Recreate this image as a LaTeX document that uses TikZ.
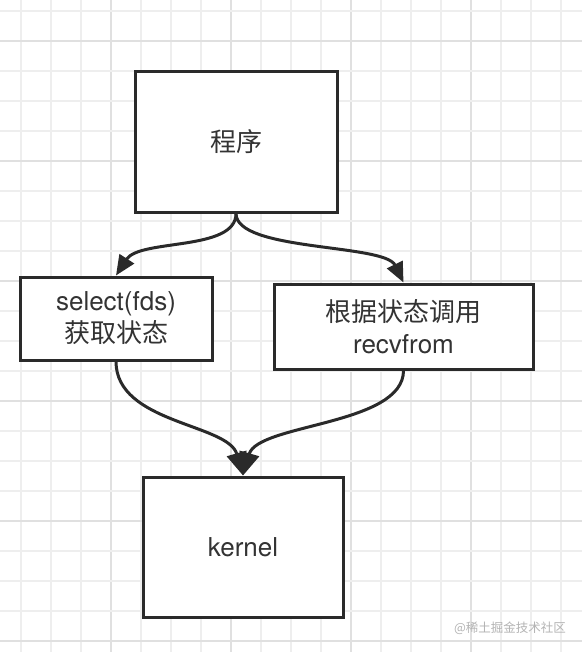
\documentclass[tikz,border=0pt]{standalone}
\usepackage{fontspec}
\setmainfont{TeX Gyre Heros}
\newfontfamily\cjk{Noto Sans CJK SC}
\usetikzlibrary{arrows.meta}
\definecolor{gridlight}{HTML}{EEEEEE}
\definecolor{griddark}{HTML}{E0E0E0}
\definecolor{ink}{HTML}{2A2A2A}
\definecolor{txt}{HTML}{333333}
\definecolor{wm}{HTML}{B4B4B4}
\tikzset{
  box/.style={draw=ink, line width=3pt, fill=white, rectangle, inner sep=0pt,
    align=center, text=txt, font=\fontsize{26}{32}\selectfont},
  conn/.style={draw=ink, line width=3pt, -{Triangle[length=20pt,width=17pt]}},
  connbig/.style={draw=ink, line width=3pt, -{Triangle[length=23pt,width=20pt]}},
}
\begin{document}
\begin{tikzpicture}[x=1pt,y=-1pt]
\useasboundingbox (0,0) rectangle (582,652);
\fill[white] (0,0) rectangle (582,652);
% grid
\foreach \k in {0,...,18}{
  \pgfmathtruncatemacro{\xx}{21+30*\k}
  \pgfmathtruncatemacro{\m}{mod(\k-3,4)==0}
  \ifnum\m=1 \draw[griddark,line width=1.6pt] (\xx,0) -- (\xx,652);
  \else \draw[gridlight,line width=1.6pt] (\xx,0) -- (\xx,652); \fi
}
\foreach \k in {0,...,21}{
  \pgfmathtruncatemacro{\yy}{11+30*\k}
  \pgfmathtruncatemacro{\m}{mod(\k-1,4)==0}
  \ifnum\m=1 \draw[griddark,line width=1.6pt] (0,\yy) -- (582,\yy);
  \else \draw[gridlight,line width=1.6pt] (0,\yy) -- (582,\yy); \fi
}
% nodes
\node[box, minimum width=202pt, minimum height=140pt] (prog) at (236,142) {\cjk 程序};
\node[box, minimum width=192pt, minimum height=83pt] (sel) at (116,318.5) {select(fds)\\{\cjk 获取状态}};
\node[box, minimum width=259pt, minimum height=85pt] (recv) at (403.5,326.5) {{\cjk 根据状态调用}\\recvfrom};
\node[box, minimum width=200pt, minimum height=140pt] (kern) at (243,547) {kernel};
% connectors
\draw[conn] (prog.south) .. controls +(0,38) and +(24,-37) .. (sel.north);
\draw[conn] (prog.south) .. controls +(0,38) and +(-19,-39) .. (recv.north);
\draw[connbig] (sel.south) .. controls +(0,62) and +(-15,-52) .. (kern.north);
\draw[connbig] (recv.south) .. controls +(0,55) and +(15,-52) .. (kern.north);
% watermark
\node[text=wm, font=\cjk\fontsize{12.5}{14}\selectfont, inner sep=0pt] (wmark) at (510,628) {@稀土掘金技术社区};
\end{tikzpicture}
\end{document}
